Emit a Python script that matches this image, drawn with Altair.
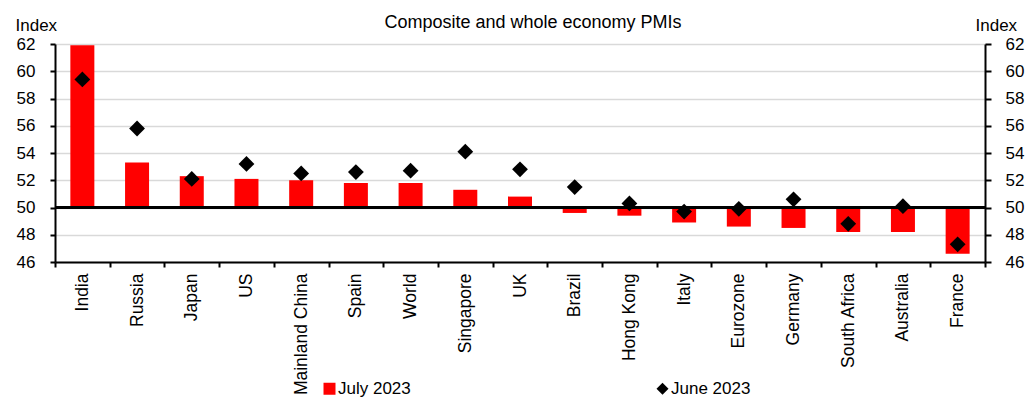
import altair as alt
import pandas as pd

countries = ["India", "Russia", "Japan", "US", "Mainland China", "Spain", "World",
             "Singapore", "UK", "Brazil", "Hong Kong", "Italy", "Eurozone", "Germany",
             "South Africa", "Australia", "France"]
july_2023 = [61.9, 53.3, 52.3, 52.1, 52.0, 51.8, 51.8, 51.3, 50.8, 49.6, 49.4,
             48.9, 48.6, 48.5, 48.2, 48.2, 46.6]
june_2023 = [59.4, 55.8, 52.1, 53.2, 52.5, 52.6, 52.7, 54.1, 52.8, 51.5, 50.3,
             49.7, 49.9, 50.6, 48.8, 50.1, 47.3]
series_names = ["July 2023", "June 2023"]
y_ticks = [46, 48, 50, 52, 54, 56, 58, 60, 62]

rows = []
for c, v in zip(countries, july_2023):
    rows.append({"country": c, "series": series_names[0], "value": v})
for c, v in zip(countries, june_2023):
    rows.append({"country": c, "series": series_names[1], "value": v})
df = pd.DataFrame(rows)

FONT = "Liberation Sans"
ydom = alt.Scale(domain=[46, 62], nice=False, zero=False)

x_enc = alt.X("country:N", sort=countries, title=None,
              scale=alt.Scale(paddingInner=0, paddingOuter=0),
              axis=alt.Axis(labelAngle=-90, labelFont=FONT, labelFontSize=17.5,
                            labelColor="black", labelPadding=6, tickBand="extent",
                            tickSize=5, tickColor="black", tickWidth=2,
                            domainColor="black", domainWidth=2, grid=False,
                            labelLimit=300))

legend_props = dict(title=None, orient="none", direction="horizontal",
                    legendX=266, legendY=336, columnPadding=243,
                    labelFont=FONT, labelFontSize=17, labelColor="black",
                    symbolSize=144, symbolOpacity=1, symbolStrokeWidth=0,
                    labelOffset=0, padding=0)

color_enc = alt.Color("series:N",
                      scale=alt.Scale(domain=series_names, range=["#ff0000", "#000000"]),
                      legend=alt.Legend(**legend_props))

base = alt.Chart(df)

bars = base.transform_filter(alt.datum.series == series_names[0]).mark_bar(size=24).encode(
    x=x_enc,
    y=alt.Y("value:Q", scale=ydom, title="Index",
            axis=alt.Axis(values=y_ticks, orient="left", labelFont=FONT, labelFontSize=17,
                          labelColor="black", labelPadding=15, tickSize=5, tickColor="black",
                          tickWidth=2, domainColor="black", domainWidth=2, grid=True,
                          gridColor="#d9d9d9", gridWidth=1.5, titleAngle=0,
                          titleAlign="left", titleBaseline="alphabetic", titleX=-40,
                          titleY=-14, titleFont=FONT, titleFontSize=17,
                          titleFontWeight="normal", titleColor="black")),
    y2=alt.Y2(datum=50),
    color=color_enc,
)

rule = base.transform_filter(alt.datum.series == series_names[0]).mark_rule(
    color="black", strokeWidth=2).encode(
    y=alt.Y(datum=50, scale=ydom, axis=None),
)

points = base.transform_filter(alt.datum.series == series_names[1]).mark_point(
    filled=True, size=250, opacity=1).encode(
    x=x_enc,
    y=alt.Y("value:Q", scale=ydom, title="Index",
            axis=alt.Axis(values=y_ticks, orient="right", labelFont=FONT, labelFontSize=17,
                          labelColor="black", labelPadding=14, tickSize=6, tickColor="black",
                          tickWidth=2, domainColor="black", domainWidth=2, grid=False,
                          titleAngle=0, titleAlign="left", titleBaseline="alphabetic",
                          titleX=-10, titleY=-14, titleFont=FONT, titleFontSize=17,
                          titleFontWeight="normal", titleColor="black")),
    color=color_enc,
    shape=alt.Shape("series:N",
                    scale=alt.Scale(domain=series_names, range=["square", "diamond"]),
                    legend=alt.Legend(**legend_props)),
)

chart = alt.layer(bars, rule, points).resolve_scale(y="independent").properties(
    width=930,
    height=218,
    title=alt.TitleParams("Composite and whole economy PMIs", font=FONT, fontSize=18,
                          fontWeight="normal", color="black", anchor="middle",
                          frame="group", offset=12, dx=13, dy=28),
    autosize=alt.AutoSizeParams(type="none"),
    padding={"left": 55, "top": 44, "right": 50, "bottom": 136},
).configure_view(stroke=None).configure(background="white")

chart.save("out.html", embed_options={"renderer": "svg", "actions": False})
